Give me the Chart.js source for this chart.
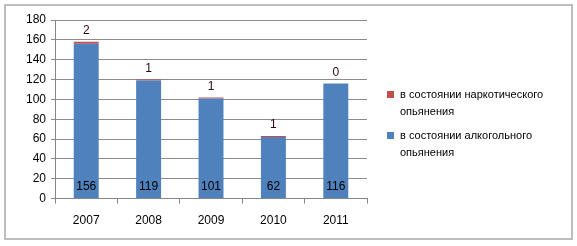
<!DOCTYPE html>
<html lang="ru">
<head>
<meta charset="UTF-8">
<title>Chart</title>
<style>
  html, body { margin: 0; padding: 0; background: #fff; }
  #wrap { width: 577px; height: 246px; }
</style>
</head>
<body>
<div id="wrap"><canvas id="myChart" width="577" height="246"></canvas></div>
<script src="https://cdn.jsdelivr.net/npm/chart.js@4.4.1/dist/chart.umd.min.js"></script>
<script>
const years = ['2007', '2008', '2009', '2010', '2011'];
const alcohol = [156, 119, 101, 62, 116];
const drugs = [2, 1, 1, 1, 0];
const alcoholLabel = ['в состоянии алкогольного', 'опьянения'];
const drugsLabel = ['в состоянии наркотического', 'опьянения'];

const FONT = '"Liberation Sans", Arial, sans-serif';

// frame, value labels and legend
const extras = {
  id: 'extras',
  beforeDraw(chart) {
    const c = chart.ctx;
    c.save();
    c.fillStyle = '#fff';
    c.fillRect(0, 0, chart.width, chart.height);
    c.strokeStyle = '#bdbdbd';
    c.lineWidth = 2;
    c.strokeRect(5, 5, 567, 234);
    c.restore();
  },
  afterDatasetsDraw(chart) {
    const c = chart.ctx;
    const y = chart.scales.y;
    c.save();
    c.font = '12px ' + FONT;
    c.textAlign = 'center';
    c.textBaseline = 'middle';
    const blue = chart.getDatasetMeta(0).data;
    const red = chart.getDatasetMeta(1).data;
    blue.forEach((bar, i) => {
      c.fillStyle = '#000';
      c.fillText(String(alcohol[i]), bar.x, y.getPixelForValue(0) - 12);
      c.fillStyle = '#2a0a0a';
      c.fillText(String(drugs[i]), red[i].x, y.getPixelForValue(alcohol[i] + drugs[i]) - 11);
    });
    // legend
    const items = [
      { color: '#C0504D', lines: drugsLabel, top: 95 },
      { color: '#4F81BD', lines: alcoholLabel, top: 136 }
    ];
    c.textAlign = 'left';
    items.forEach(it => {
      c.fillStyle = it.color;
      c.fillRect(387, it.top - 4, 7, 7);
      c.fillStyle = '#000';
      c.font = '11px ' + FONT;
      it.lines.forEach((t, k) => c.fillText(t, 400, it.top + k * 17));
    });
    c.restore();
  }
};

new Chart(document.getElementById('myChart'), {
  type: 'bar',
  data: {
    labels: years,
    datasets: [
      { label: alcoholLabel.join(' '), data: alcohol, backgroundColor: '#4F81BD', barPercentage: 0.4, categoryPercentage: 1 },
      { label: drugsLabel.join(' '), data: drugs, backgroundColor: '#C0504D', barPercentage: 0.4, categoryPercentage: 1 }
    ]
  },
  options: {
    responsive: false,
    animation: false,
    layout: { padding: { left: 21, right: 210, top: 20, bottom: 8 } },
    scales: {
      x: {
        stacked: true,
        grid: { offset: true, drawOnChartArea: false, tickLength: 5, color: '#868686' },
        border: { color: '#868686' },
        ticks: { color: '#000', font: { family: FONT, size: 12 }, padding: 10 }
      },
      y: {
        stacked: true,
        min: 0,
        max: 180,
        ticks: { stepSize: 20, color: '#000', font: { family: FONT, size: 12 }, padding: 5 },
        grid: { color: '#8c8c8c', tickLength: 4 },
        border: { color: '#868686' }
      }
    },
    plugins: {
      legend: { display: false },
      tooltip: { enabled: false }
    }
  },
  plugins: [extras]
});
</script>
</body>
</html>
